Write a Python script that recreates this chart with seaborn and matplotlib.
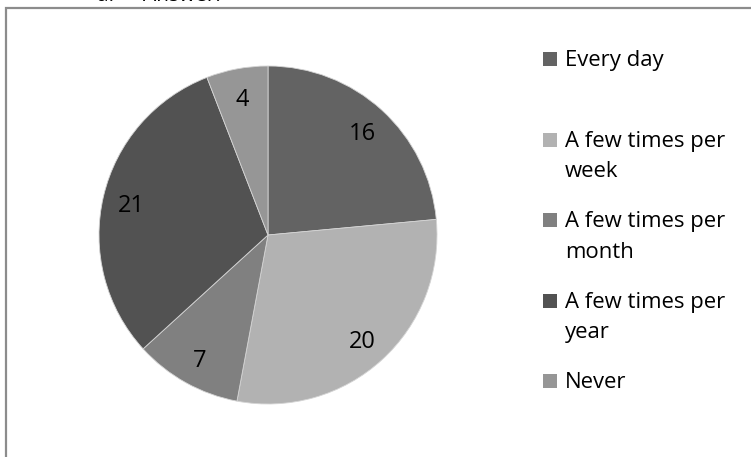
import matplotlib
matplotlib.use("Agg")
import matplotlib.pyplot as plt
import matplotlib.patches as mpatches
import numpy as np
import seaborn as sns

# Survey answers: how often the respondents do it
categories = ["Every day", "A few times per\nweek", "A few times per\nmonth",
              "A few times per\nyear", "Never"]
counts = [16, 20, 7, 21, 4]
colors = ["#636363", "#b2b2b2", "#808080", "#525252", "#969696"]

sns.set_theme(style="white")
plt.rcParams["font.family"] = ["Open Sans", "DejaVu Sans"]

W, H = 751, 457
fig = plt.figure(figsize=(W / 100, H / 100), dpi=100)
fig.patch.set_facecolor("white")

def px(x, y):
    return x / W, 1 - y / H

# chart frame (clipped on right and bottom)
frame = mpatches.Rectangle(px(5.5, 470), (760 - 5.5) / W, (470 - 8.5) / H,
                           transform=fig.transFigure, fill=False,
                           edgecolor="#8c8c8c", linewidth=1.6)
fig.patches.append(frame)

# question heading above the frame, running off the top edge
fig.text(97 / W, 1 - 0.6 / H, "a.", fontsize=15, color="black", va="baseline")
fig.text(143 / W, 1 - 0.6 / H, "Answer:", fontsize=15, color="black", va="baseline")

# pie
cx, cy, r = 268, 235, 169
ax = fig.add_axes([(cx - r) / W, (H - cy - r) / H, 2 * r / W, 2 * r / H])
wedges, _ = ax.pie(counts, colors=colors, startangle=90, counterclock=False,
                   wedgeprops=dict(edgecolor="#d4d4d4", linewidth=0.6))
ax.set_aspect("equal")
ax.set_xlim(-1, 1)
ax.set_ylim(-1, 1)
ax.axis("off")

# value labels at each wedge's mid angle
for w, v in zip(wedges, counts):
    mid = np.deg2rad((w.theta1 + w.theta2) / 2)
    d = 0.83
    ax.text(d * np.cos(mid), d * np.sin(mid), str(v), ha="center",
            va="center_baseline", fontsize=17, color="black")

# legend: evenly spaced entries, square key beside the first text line
first_base, step, pitch = 66, 80.6, 30.7
key_x, key_size, text_x = 543, 14, 565
for i, (lab, c) in enumerate(zip(categories, colors)):
    base = first_base + step * i
    x0, y0 = px(key_x, base)
    fig.patches.append(mpatches.Rectangle((x0, y0), key_size / W, key_size / H,
                                          transform=fig.transFigure,
                                          facecolor=c, edgecolor="none"))
    for k, line in enumerate(lab.split("\n")):
        tx, ty = px(text_x, base + k * pitch)
        fig.text(tx, ty, line, fontsize=15.9, color="black", va="baseline")

fig.savefig("out.png", dpi=100)
